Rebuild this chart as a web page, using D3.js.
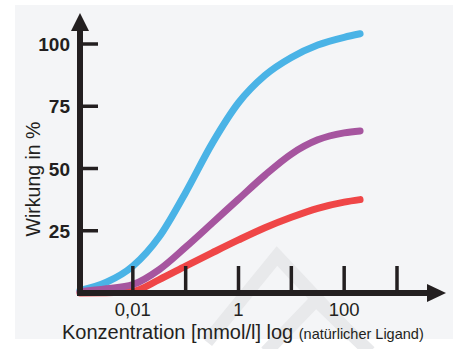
<!DOCTYPE html>
<html>
<head>
<meta charset="utf-8">
<script src="https://cdn.jsdelivr.net/npm/d3@7"></script>
<style>
  body { margin: 0; background: #fff; }
  svg text { font-family: 'Liberation Sans', Arial, sans-serif; fill: #231f20; }
</style>
</head>
<body>
<div id="chart"></div>
<script>
// data, half-decade steps on the log axis
var concentrations = [0.001, 0.00316, 0.01, 0.0316, 0.1, 0.316, 1, 3.16, 10, 31.6, 100, 200]
var blueValues   = [1, 4.3, 10.8, 22.6, 40.4, 60, 76.4, 87.4, 94.6, 99.6, 102.7, 104.1]
var purpleValues = [0.5, 1.7, 3.4, 9.4, 18.4, 28, 37.7, 47.3, 55.8, 61.5, 64.3, 65.1]
var redValues    = [0, 0.1, 0.7, 5.4, 10.8, 16.1, 21.3, 26.2, 30.4, 34, 36.5, 37.5]
var yTicks = [25, 50, 75, 100]
var xTicks = [0.01, 0.1, 1, 10, 100, 1000]
var xLabels = [ { 'v': 0.01, 'text': '0,01' }, { 'v': 1, 'text': '1' }, { 'v': 100, 'text': '100' } ]

var width = 456,
		height = 349,
		ink = '#231f20'

var svg = d3.select('#chart')
	.append('svg')
		.attr('width', width)
		.attr('height', height)

// panel
svg.append('rect')
	.attr('x', 15).attr('y', 5)
	.attr('width', 438).attr('height', 334)
	.attr('fill', '#f4f5f7')

// faint watermark chevrons
var wm = svg.append('g')
	.attr('fill', 'none')
	.attr('stroke', '#e8e9eb')
	.attr('stroke-width', 13)
wm.append('path').attr('d', 'M207,342 L277,256 L352,336')
wm.append('path').attr('d', 'M266,352 L316,300 L370,352')

// scales
var x = d3.scaleLog().domain([0.001, 1000]).range([80, 397])
var y = d3.scaleLinear().domain([0, 100]).range([293, 44])

var line = d3.line()
	.x(function(d) { return x(d[0]) })
	.y(function(d) { return y(d[1]) })
	.curve(d3.curveMonotoneX)

var series = [
	{ 'color': '#4ab3e6', 'values': blueValues },
	{ 'color': '#ef4647', 'values': redValues },
	{ 'color': '#a6559f', 'values': purpleValues }
]

svg.selectAll('path.curve')
		.data(series).enter()
	.append('path')
		.attr('class', 'curve')
		.attr('d', function(s) {
			return line(concentrations.map(function(c, i) { return [c, s.values[i]] }))
		})
		.attr('fill', 'none')
		.attr('stroke', function(s) { return s.color })
		.attr('stroke-width', 7)
		.attr('stroke-linecap', 'round')

// y axis
svg.append('line')
	.attr('x1', 80).attr('x2', 80)
	.attr('y1', 296).attr('y2', 28)
	.attr('stroke', ink).attr('stroke-width', 6)
svg.append('path')
	.attr('d', 'M71,31 L89,31 L80,13 Z')
	.attr('fill', ink)

svg.selectAll('line.ytick')
		.data(yTicks).enter()
	.append('line')
		.attr('class', 'ytick')
		.attr('x1', 80).attr('x2', 98)
		.attr('y1', function(d) { return y(d) })
		.attr('y2', function(d) { return y(d) })
		.attr('stroke', ink).attr('stroke-width', 3.5)

svg.selectAll('text.ylabel')
		.data(yTicks).enter()
	.append('text')
		.attr('class', 'ylabel')
		.attr('x', 70)
		.attr('y', function(d) { return y(d) + 7 })
		.attr('text-anchor', 'end')
		.attr('font-size', 19)
		.attr('font-weight', 'bold')
		.text(function(d) { return d })

// x axis
svg.append('line')
	.attr('x1', 77).attr('x2', 430)
	.attr('y1', 293).attr('y2', 293)
	.attr('stroke', ink).attr('stroke-width', 6)
svg.append('path')
	.attr('d', 'M427,284 L427,302 L446,293 Z')
	.attr('fill', ink)

svg.selectAll('line.xtick')
		.data(xTicks).enter()
	.append('line')
		.attr('class', 'xtick')
		.attr('x1', function(d) { return x(d) })
		.attr('x2', function(d) { return x(d) })
		.attr('y1', 293).attr('y2', 266)
		.attr('stroke', ink).attr('stroke-width', 3.5)

svg.selectAll('text.xlabel')
		.data(xLabels).enter()
	.append('text')
		.attr('class', 'xlabel')
		.attr('x', function(d) { return x(d.v) })
		.attr('y', 316)
		.attr('text-anchor', 'middle')
		.attr('font-size', 18.5)
		.text(function(d) { return d.text })

// titles
var xTitle = svg.append('text')
	.attr('x', 62)
	.attr('y', 339)
	.attr('font-size', 20)
xTitle.append('tspan').text('Konzentration [mmol/l] log ')
xTitle.append('tspan').attr('font-size', 14.5).text('(natürlicher Ligand)')

svg.append('text')
	.attr('transform', 'translate(40,179) rotate(-90)')
	.attr('text-anchor', 'middle')
	.attr('font-size', 19.5)
	.text('Wirkung in %')
</script>
</body>
</html>
